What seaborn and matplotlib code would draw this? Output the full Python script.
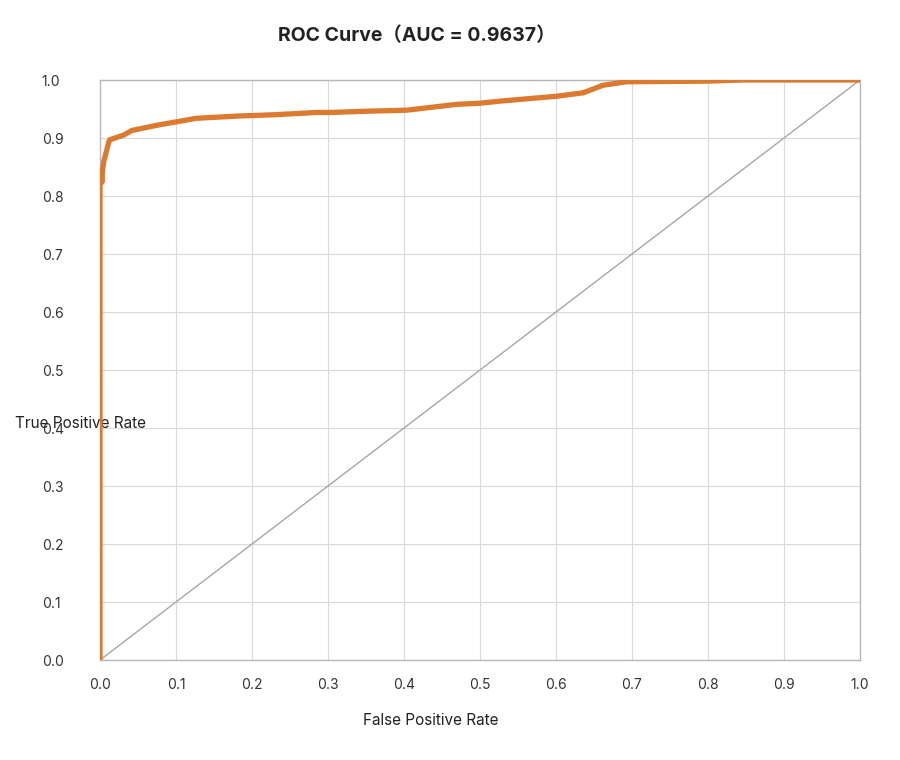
import pandas as pd
import matplotlib
matplotlib.use("Agg")
import matplotlib.pyplot as plt
import seaborn as sns

# ROC points
fpr = [0.0, 0.0, 0.0, 0.003, 0.003, 0.005, 0.008, 0.012, 0.013, 0.031, 0.042,
       0.075, 0.101, 0.127, 0.184, 0.228, 0.285, 0.303, 0.346, 0.404, 0.469,
       0.5, 0.530, 0.601, 0.636, 0.662, 0.693, 0.697, 0.798, 0.846, 1.0]
tpr = [0.0, 0.5, 0.82, 0.825, 0.84, 0.86, 0.875, 0.895, 0.897, 0.905, 0.913,
       0.922, 0.928, 0.934, 0.938, 0.940, 0.944, 0.944, 0.946, 0.948, 0.958,
       0.960, 0.964, 0.972, 0.978, 0.991, 0.997, 0.997, 0.998, 1.0, 1.0]
diag = [0.0, 1.0]
ticks = [i / 10 for i in range(11)]
auc = 0.9637

df = pd.DataFrame({"FPR": fpr, "TPR": tpr})

sns.set_style("white")
plt.rcParams["font.family"] = ["Inter", "Noto Sans CJK SC", "DejaVu Sans"]

fig = plt.figure(figsize=(9, 7.6), dpi=100)
ax = fig.add_axes([100 / 900, 100 / 760, 760 / 900, 580 / 760])

ax.plot(diag, diag, color="#a6a6a6", linewidth=1, zorder=2)
sns.lineplot(data=df, x="FPR", y="TPR", ax=ax, color="#dc7a2f",
             linewidth=3.8, estimator=None, sort=False, zorder=3)

ax.set_xlim(0, 1)
ax.set_ylim(0, 1)
ax.set_xticks(ticks)
ax.set_yticks(ticks)
ax.set_xticklabels([f"{t:.1f}" for t in ticks])
ax.set_yticklabels([f"{t:.1f}" for t in ticks])
ax.grid(True, color="#d9d9d9", linewidth=0.8, zorder=0)
ax.set_axisbelow(True)
for s in ["left", "bottom", "top", "right"]:
    ax.spines[s].set_color("#b8b8b8")
    ax.spines[s].set_linewidth(1)
ax.tick_params(axis="x", length=0, pad=13, labelsize=10, labelcolor="#333333")
ax.tick_params(axis="y", length=0, pad=42, labelsize=10, labelcolor="#333333")
for lab in ax.get_yticklabels():
    lab.set_horizontalalignment("left")

ax.set_xlabel("False Positive Rate", fontsize=11, color="#222222")
ax.xaxis.set_label_coords(0.435, -0.092)
ax.set_ylabel("True Positive Rate", fontsize=11, color="#222222",
              rotation=0, ha="left", va="center")
ax.yaxis.set_label_coords(-0.112, 0.407)

ax.set_title(f"ROC Curve（AUC = {auc}）", fontsize=14, fontweight="bold",
             color="#222222", x=0.417, y=1.0, pad=28)

fig.savefig("out.png", dpi=100)
